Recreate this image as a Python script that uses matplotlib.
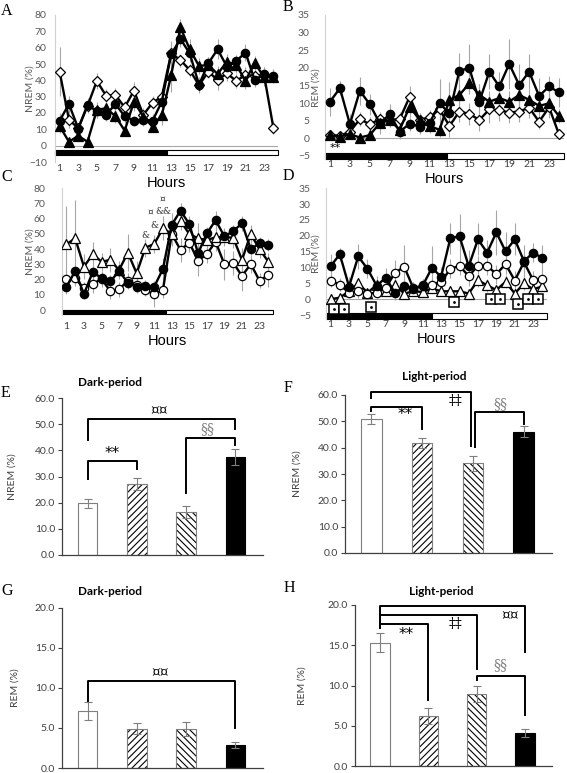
import matplotlib
matplotlib.use('Agg')
import matplotlib.pyplot as plt
from matplotlib.patches import Rectangle
import numpy as np

plt.rcParams['font.family'] = ['Lato', 'DejaVu Sans']
plt.rcParams['hatch.linewidth'] = 0.8

hours = np.arange(1, 25)
hour_ticks = list(range(1, 24, 2))

# ---- hourly NREM (%) ----
nrem_ctrl = [15.3, 25.5, 10.5, 25, 21, 18.8, 25.5, 18, 15.3, 16, 15.3, 27,
             56, 65.3, 56.5, 37.3, 50.4, 59, 48.4, 51.8, 57, 40, 43.9, 42.7]
nrem_ctrl_err = [5, 5, 3, 4, 4, 4, 4, 4, 3, 4, 4, 7, 8, 5, 5, 5, 4, 6, 5, 4, 5, 4, 4, 4]
nrem_tri = [12, 2.4, 6, 2.4, 21.8, 23, 18, 9.2, 27, 17.8, 11.6, 18.8,
            43, 72.4, 59, 48.8, 49.4, 43.9, 51.4, 49.4, 39.8, 50.8, 41.8, 42.2]
nrem_tri_err = [4, 2, 2, 2, 5, 5, 4, 3, 6, 4, 3, 6, 10, 5, 6, 5, 5, 5, 5, 5, 5, 4, 5, 4]
nrem_dia = [45.3, 16, 10.6, 24.3, 39.6, 30.6, 31, 23.5, 33.7, 18.8, 26.3, 30,
            56.5, 52.4, 46.3, 37, 45.3, 40.2, 44.3, 39.6, 43.3, 42.7, 43.3, 11]
nrem_dia_err = [15, 5, 3, 4, 5, 4, 4, 4, 5, 4, 4, 5, 6, 4, 4, 4, 4, 6, 5, 4, 5, 4, 5, 4]
nrem_otri = [43.2, 47.1, 28.5, 36.6, 31.8, 32.9, 26.3, 37.7, 24.1, 41, 43.4, 53.7,
             50, 58.5, 50, 47.1, 46, 47.8, 47.8, 47.6, 32.9, 50, 39.9, 31.8]
nrem_otri_err = [25, 25, 8, 8, 6, 8, 6, 12, 8, 6, 6, 8, 6, 6, 6, 10, 6, 7, 6, 7, 8, 6, 6, 6]
nrem_ocir = [20.4, 20.8, 14.2, 17.1, 20.4, 12.5, 13.6, 19.3, 16.4, 13.2, 10.3, 13.2,
             50, 39.5, 44.3, 32.4, 36.8, 44.9, 30, 31.1, 22.4, 30.2, 19.3, 23]
nrem_ocir_err = [6, 5, 4, 6, 5, 5, 5, 5, 5, 4, 8, 5, 8, 8, 6, 10, 6, 6, 10, 8, 10, 6, 5, 8]

# ---- hourly REM (%) ----
rem_ctrl = [10.4, 14.2, 4, 13.5, 9.6, 4.3, 6.8, 1.9, 4.1, 3.3, 4.3, 9.9,
            7.1, 19.2, 19.9, 10.4, 18.9, 14.7, 21.1, 15.1, 18.9, 12, 14.7, 13]
rem_ctrl_err = [4, 2, 3, 4, 3, 3, 3, 2, 2, 2, 2, 7, 3, 5, 7, 5, 5, 4, 7, 6, 5, 5, 3, 4]
rem_tri = [0.8, 0.5, 1.2, 0.2, 0.9, 4.3, 5.2, 2.4, 9, 5.2, 3.5, 2.4,
           10.9, 12.3, 15.6, 12.3, 10.4, 11.4, 10.4, 12.3, 10.9, 9.2, 9.9, 6.3]
rem_tri_err = [1, 1, 1, 1, 1, 2, 2, 2, 3, 2, 2, 2, 5, 3, 3, 3, 3, 3, 3, 3, 3, 3, 3, 2]
rem_dia = [0.9, 0.7, 1.9, 5.4, 4.0, 5.4, 5.2, 5.4, 11.8, 5.2, 6, 8.2,
           3.5, 7.6, 6.9, 5.2, 8.2, 8, 7.3, 7.6, 8.7, 4.7, 8.8, 1.1]
rem_dia_err = [1, 1, 1, 2, 2, 2, 2, 2, 3, 2, 2, 3, 3, 3, 3, 3, 4, 3, 3, 3, 3, 2, 3, 1]
rem_ocir = [5.8, 4.6, 2.0, 2.5, 1.8, 2.0, 3.6, 8.4, 10.2, 3.4, 4.4, 4.6,
            5.4, 9.6, 10.5, 7.3, 10.6, 10.6, 7.9, 11.1, 5.9, 11.7, 6.0, 6.5]
rem_ocir_err = [2, 2, 1, 2, 1, 1, 2, 4, 7, 2, 2, 2, 3, 3, 3, 3, 3, 3, 3, 3, 3, 3, 3, 3]
rem_otri = [0, 0.5, 2.5, 5.0, 2.1, 4.4, 2.5, 4.4, 1.8, 2.5, 2.3, 3.4,
            2.5, 2.5, 2.5, 1.8, 6.0, 4.4, 2.9, 5.5, 1.8, 5.0, 3.1, 4.1]
rem_otri_err = [1, 1, 1, 1, 1, 2, 1, 2, 1, 1, 1, 1, 1, 1, 1, 1, 2, 2, 1, 2, 1, 2, 1, 1]

# significance marks on the hourly panels
b_star_x, b_star_y = 1.5, -2.9
c_marks = [(10.0, 49, '&'), (11.0, 55.3, '&'), (10.6, 64.5, '¤'), (12.1, 64.5, '&&'), (11.9, 72.6, '¤')]
d_mark_x = [1.4, 2.5, 5.4, 14.4, 18.4, 19.4, 21.3, 22.4, 23.5]
d_mark_y = [-3.1, -3.1, -2.4, -1.0, 0, 0, -1.5, 0, 0]

# ---- period means ----
nrem_dark = [19.7, 27.2, 16.4, 37.5]
nrem_dark_err = [1.6, 2.4, 2.2, 3.2]
nrem_light = [50.7, 41.6, 34.1, 46.0]
nrem_light_err = [1.9, 1.9, 2.9, 2.1]
rem_dark = [7.1, 4.9, 4.9, 2.9]
rem_dark_err = [1.1, 0.7, 0.9, 0.4]
rem_light = [15.3, 6.2, 8.9, 4.1]
rem_light_err = [1.2, 1.0, 1.0, 0.5]

# brackets: (x1, x2, top, left end, right end, label, label x, label y, colour)
e_brackets = [(0, 1, 36, 29, 33, '**', 0.49, 38.6, 'black'),
              (0, 3, 52, 44, 48, '¤¤', 1.46, 54.8, 'black'),
              (2, 3, 44.8, 23.6, 42, '§§', 2.43, 48, '#7f7f7f')]
f_brackets = [(0, 1.97, 61.2, 58.7, 40.6, '‡‡', 1.66, 57.8, 'black'),
              (0, 1, 55.6, 53.9, 47.1, '**', 0.67, 52.6, 'black'),
              (2.05, 3, 53.4, 40.4, 49.0, '§§', 2.55, 56.4, '#7f7f7f')]
g_brackets = [(0, 3, 10.8, 8.3, 5.0, '¤¤', 1.47, 11.8, 'black')]
h_brackets = [(0, 3, 19.9, 17.1, 14.1, '¤¤', 2.7, 18.6, 'black'),
              (0, 2, 18.8, 17.1, 12.1, '‡‡', 1.56, 17.6, 'black'),
              (0, 1, 17.7, 17.1, 8.2, '**', 0.53, 16.3, 'black'),
              (2, 3, 11.2, 10.7, 6.3, '§§', 2.5, 12.5, '#7f7f7f')]

fig = plt.figure(figsize=(5.67, 7.73), dpi=100)
W, H = 567.0, 773.0


def px_axes(left, top, right, bottom):
    return fig.add_axes([left / W, 1 - bottom / H, (right - left) / W, (bottom - top) / H])


def line_panel(ax, series, ylim, yticks, ylabel, bar_lo, bar_hi, dark_end, lab_x, pad, ypad):
    for vals, errs, marker, face, ms in series:
        ax.errorbar(hours, vals, yerr=errs, fmt='none', ecolor='#a6a6a6', elinewidth=0.8, zorder=1)
        ax.plot(hours, vals, color='black', lw=1.7, marker=marker, mfc=face, mec='black',
                ms=ms, mew=0.9, zorder=3)
    ax.axhline(0, color='#a6a6a6', lw=0.8, zorder=0)
    ax.add_patch(Rectangle((0.5, bar_lo), dark_end - 0.5, bar_hi - bar_lo, fc='black',
                           ec='black', lw=0.8, clip_on=False, zorder=2))
    ax.add_patch(Rectangle((dark_end, bar_lo), 24.5 - dark_end, bar_hi - bar_lo, fc='white',
                           ec='black', lw=0.8, clip_on=False, zorder=2))
    ax.set_xlim(0.5, 24.5)
    ax.set_ylim(*ylim)
    ax.set_yticks(yticks)
    ax.set_xticks(hour_ticks)
    ax.tick_params(axis='y', length=0, labelsize=7.5, labelcolor='#595959', pad=ypad)
    ax.tick_params(axis='x', length=0, labelsize=7.5, labelcolor='#404040', pad=pad)
    for s in ['top', 'right', 'bottom']:
        ax.spines[s].set_visible(False)
    ax.spines['left'].set_color('#d0d0d0')
    ax.spines['left'].set_linewidth(0.8)
    ax.set_ylabel(ylabel, fontsize=7.5, color='#595959')
    ax.yaxis.set_label_coords(lab_x, 0.5)
    ax.set_xlabel('Hours', fontsize=10.5, family='Liberation Sans', labelpad=2)


def bar_panel(ax, vals, errs, ylim, yticks, ylabel, title, title_xy, brackets, lab_x):
    x = np.arange(4)
    faces = ['white', 'white', 'white', 'black']
    hatches = ['', '/////', '\\\\\\\\\\', '']
    for i in range(4):
        if hatches[i]:
            ax.bar(x[i], vals[i], 0.4, color='white', hatch=hatches[i], edgecolor='black', lw=0, zorder=2)
            ax.bar(x[i], vals[i], 0.4, fill=False, edgecolor='#7f7f7f', lw=0.8, zorder=3)
        else:
            ax.bar(x[i], vals[i], 0.4, color=faces[i], edgecolor='#7f7f7f' if i == 0 else 'black',
                   lw=0.8, zorder=2)
    ax.errorbar(x, vals, yerr=errs, fmt='none', ecolor='#7f7f7f', elinewidth=0.8, capsize=3,
                capthick=0.8, zorder=4)
    for x1, x2, top, y1, y2, lab, tx, ty, col in brackets:
        ax.plot([x1, x1, x2, x2], [y1, top, top, y2], color='black', lw=1.4, clip_on=False, zorder=5)
        if lab == '**':
            ax.text(tx, ty, lab, ha='center', va='center', fontsize=11, family='DejaVu Sans', color=col)
        else:
            ax.text(tx, ty, lab, ha='center', va='center', fontsize=10, family='DejaVu Serif', color=col)
    ax.set_xlim(-0.52, 3.56)
    ax.set_ylim(*ylim)
    ax.set_yticks(yticks)
    ax.set_yticklabels(['%.1f' % t for t in yticks])
    ax.set_xticks([])
    ax.tick_params(axis='y', length=3, width=0.8, color='#404040', labelsize=7.5,
                   labelcolor='#404040', pad=2)
    for s in ['top', 'right']:
        ax.spines[s].set_visible(False)
    for s in ['left', 'bottom']:
        ax.spines[s].set_color('#404040')
        ax.spines[s].set_linewidth(0.9)
    ax.set_ylabel(ylabel, fontsize=7.5, color='#404040')
    ax.yaxis.set_label_coords(lab_x, 0.5)
    ax.text(title_xy[0], title_xy[1], title, transform=ax.transAxes, ha='center', va='center',
            fontsize=8.5, fontweight='bold')


# A
axA = px_axes(55, 15, 278, 162)
line_panel(axA, [(nrem_dia, nrem_dia_err, 'D', 'white', 5.5),
                 (nrem_ctrl, nrem_ctrl_err, 'o', 'black', 6),
                 (nrem_tri, nrem_tri_err, '^', 'black', 6.5)],
           (-10, 80), range(-10, 81, 10), 'NREM (%)', -6, -2.5, 12.5, -0.092, 1.5, 6)

# B
axB = px_axes(325, 15, 564, 159.4)
line_panel(axB, [(rem_dia, rem_dia_err, 'D', 'white', 5.5),
                 (rem_ctrl, rem_ctrl_err, 'o', 'black', 6),
                 (rem_tri, rem_tri_err, '^', 'black', 6.5)],
           (-6, 35), range(-5, 36, 5), 'REM (%)', -6, -4.2, 12.75, -0.017, 0.5, 11)
axB.text(b_star_x, b_star_y, '**', ha='center', va='center', fontsize=8, family='DejaVu Sans')

# C
axC = px_axes(62, 188.3, 272.7, 314.6)
line_panel(axC, [(nrem_ocir, nrem_ocir_err, 'o', 'white', 6),
                 (nrem_otri, nrem_otri_err, '^', 'white', 6.5),
                 (nrem_ctrl, nrem_ctrl_err, 'o', 'black', 6)],
           (-3, 80), range(0, 81, 10), 'NREM (%)', -2.6, 0, 12.4, -0.13, 5.5, 12)
for mx, my, mt in c_marks:
    axC.text(mx, my, mt, ha='center', va='center', fontsize=6.5, family='DejaVu Serif', color='#333333')

# D
axD = px_axes(326, 188.3, 547, 319.2)
line_panel(axD, [(rem_otri, rem_otri_err, '^', 'white', 6.5),
                 (rem_ocir, rem_ocir_err, 'o', 'white', 6),
                 (rem_ctrl, rem_ctrl_err, 'o', 'black', 6)],
           (-6.3, 35), range(-5, 36, 5), 'REM (%)', -6.2, -4.3, 12, -0.025, 0.5, 11)
axD.plot(d_mark_x, d_mark_y, 's', mfc='white', mec='black', ms=6.5, mew=1.1, zorder=4, clip_on=False)
axD.plot(d_mark_x, d_mark_y, 'o', mfc='black', mec='none', ms=2, zorder=5, clip_on=False)

# E-H
axE = px_axes(62, 398, 263, 555)
bar_panel(axE, nrem_dark, nrem_dark_err, (0, 60), [0, 10, 20, 30, 40, 50, 60], 'NREM (%)',
          'Dark-period', (0.24, 1.096), e_brackets, -0.225)
axF = px_axes(345, 395, 552, 553)
bar_panel(axF, nrem_light, nrem_light_err, (0, 60), [0, 10, 20, 30, 40, 50, 60], 'NREM (%)',
          'Light-period', (0.43, 1.114), f_brackets, -0.21)
axG = px_axes(62, 607.7, 263, 768)
bar_panel(axG, rem_dark, rem_dark_err, (0, 20), [0, 5, 10, 15, 20], 'REM (%)',
          'Dark-period', (0.24, 1.10), g_brackets, -0.21)
axH = px_axes(355, 605, 552, 766)
bar_panel(axH, rem_light, rem_light_err, (0, 20), [0, 5, 10, 15, 20], 'REM (%)',
          'Light-period', (0.44, 1.083), h_brackets, -0.245)

# panel letters
for letter, lx, ly in [('A', 1, 11), ('B', 283, 7), ('C', 1, 177), ('D', 283, 176),
                       ('E', 1, 393), ('F', 284, 388), ('G', 1, 591), ('H', 284, 588)]:
    fig.text(lx / W, 1 - ly / H, letter, ha='left', va='center', fontsize=11.5,
             family='Liberation Serif')

fig.savefig('out.png', dpi=100)
